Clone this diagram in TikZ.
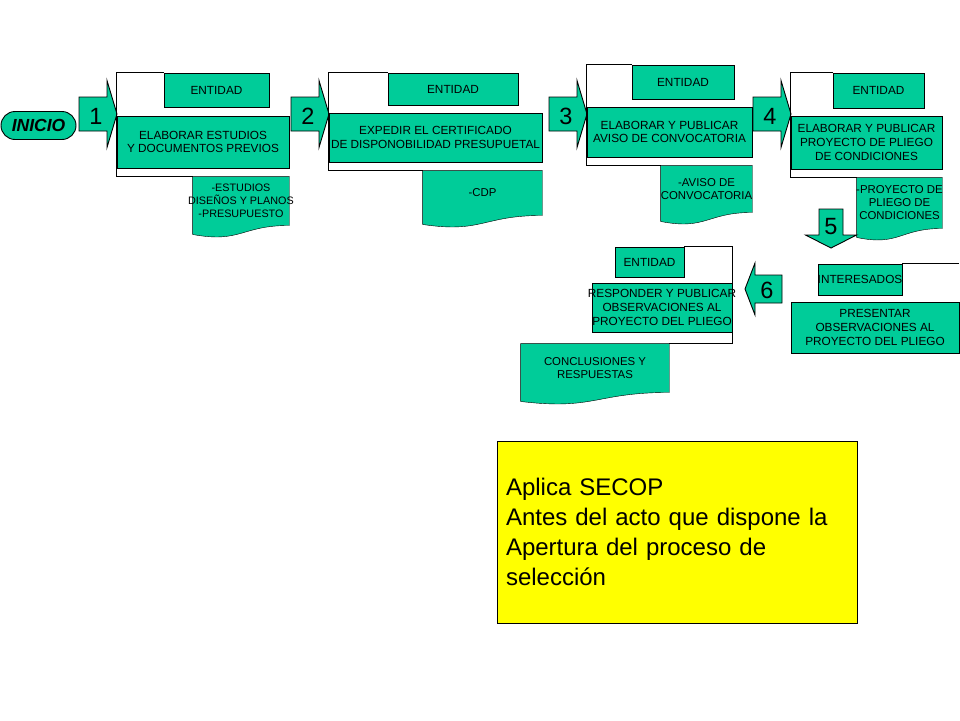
\documentclass[tikz,border=0pt]{standalone}
\usepackage{fontspec}
\setmainfont{Liberation Sans}
\usepackage{tikz}
\usetikzlibrary{calc,backgrounds}
\definecolor{verde}{RGB}{0,204,153}
\definecolor{amarillo}{RGB}{255,255,0}
\tikzset{
  caja/.style={draw, fill=verde, inner xsep=-15pt, inner ysep=0pt, align=center,
    font=\fontsize{11.8}{13.6}\selectfont},
  doc/.style={inner xsep=-15pt, inner ysep=0pt, align=center,
    font=\fontsize{11.4}{13}\selectfont},
  num/.style={font=\fontsize{23.5}{23.5}\selectfont},
  inicio/.style={draw, fill=verde, rounded corners=14pt, minimum width=75, minimum height=28,
    inner sep=0pt, font=\fontsize{17.5}{17.5}\selectfont\bfseries\itshape},
  pics/flecha/.style args={#1/#2/#3/#4}{code={
    \filldraw[fill=verde] (0,0) -- (-#3,-#4) -- (-#3,-#2) -- (-#1,-#2) -- (-#1,#2) -- (-#3,#2) -- (-#3,#4) -- cycle;
  }},
}
\begin{document}
\begin{tikzpicture}[x=1pt, y=-1pt, line width=0.9pt]
  \useasboundingbox (0,0) rectangle (960,720);

  \draw (38.5,125.5) node[inicio] (inicio) {INICIO};

  \pic at (117,114) {flecha=38/17/10/33.5};
  \pic at (329,114) {flecha=38/17/10/33.5};
  \pic at (587,114) {flecha=38/17/10/33.5};
  \pic at (791,114) {flecha=38/17/10/33.5};
  \pic[rotate=-90] at (831,248) {flecha=39/12/13/25.5};
  \pic[rotate=180] at (745,289) {flecha=37/14/10/26};
  \draw (96,116) node[num] (n1) {1};
  \draw (308,116) node[num] (n2) {2};
  \draw (566,116) node[num] (n3) {3};
  \draw (770,116) node[num] (n4) {4};
  \draw (831,227) node[num] (n5) {5};
  \draw (767,290) node[num] (n6) {6};

  \draw (216.5,90) node[caja, minimum width=105, minimum height=34] (ent1) {ENTIDAD};
  \draw (203,142) node[caja, minimum width=172, minimum height=52] (main1) {ELABORAR ESTUDIOS\\Y DOCUMENTOS PREVIOS};
  \draw (241,201) node[doc, minimum width=96, minimum height=48, font=\fontsize{10.8}{13}\selectfont] (doc1) {-ESTUDIOS\\DISEÑOS Y PLANOS\\-PRESUPUESTO};

  \draw (453,89) node[caja, minimum width=130, minimum height=32] (ent2) {ENTIDAD};
  \draw (435.5,137.5) node[caja, minimum width=213, minimum height=49] (main2) {EXPEDIR EL CERTIFICADO\\DE DISPONOBILIDAD PRESUPUETAL};
  \draw (482.5,193) node[doc, minimum width=119, minimum height=44] (doc2) {-CDP};

  \draw (683,82) node[caja, minimum width=102, minimum height=34] (ent3) {ENTIDAD};
  \draw (669.5,132) node[caja, minimum width=165, minimum height=50] (main3) {ELABORAR Y PUBLICAR\\AVISO DE CONVOCATORIA};
  \draw (706.5,189) node[doc, minimum width=91, minimum height=46] (doc3) {-AVISO DE\\CONVOCATORIA};

  \draw (878.5,90.5) node[caja, minimum width=91, minimum height=35] (ent4) {ENTIDAD};
  \draw (866.5,142.5) node[caja, minimum width=151, minimum height=53] (main4) {ELABORAR Y PUBLICAR\\PROYECTO DE PLIEGO\\DE CONDICIONES};
  \draw (899.5,203) node[doc, minimum width=85, minimum height=50] (doc4) {-PROYECTO DE\\PLIEGO DE\\CONDICIONES};

  \draw (860,279.5) node[caja, minimum width=84, minimum height=31] (int5) {INTERESADOS};
  \draw (875,327.5) node[caja, minimum width=168, minimum height=51] (main5) {PRESENTAR\\OBSERVACIONES AL\\PROYECTO DEL PLIEGO};

  \draw (649.5,262) node[caja, minimum width=69, minimum height=30] (ent6) {ENTIDAD};
  \draw (662,307.5) node[caja, minimum width=140, minimum height=49] (main6) {RESPONDER Y PUBLICAR\\OBSERVACIONES AL\\PROYECTO DEL PLIEGO};
  \draw (595,368) node[doc, minimum width=148, minimum height=48] (doc6) {CONCLUSIONES Y\\RESPUESTAS};

  \draw (ent1.north west) -| (main1.west |- doc1.north) -- (doc1.north west);
  \draw (ent2.north west) -| (main2.west |- doc2.north) -- (doc2.north west);
  \draw (ent3.north west) -| (main3.west |- doc3.north) -- (doc3.north west);
  \draw (ent4.north west) -| (main4.west |- doc4.north) -- (doc4.north west);
  \draw (int5.north east) -- (int5.north east -| main5.east);
  \draw (ent6.north east) -| (main6.east |- doc6.north) -- (doc6.north east);

  \draw (677,532) node[draw, fill=amarillo, minimum height=182, text width=342, inner xsep=9pt,
    align=left, font=\fontsize{24}{30}\selectfont] (secop) {Aplica SECOP\\Antes del acto que dispone la\\Apertura del proceso de\\selección};

  \begin{scope}[on background layer]
    \fill[white] (0,0) rectangle (960,720);
    \foreach \d in {doc1,doc2,doc3,doc4,doc6}
      \filldraw[fill=verde] (\d.north west) -- (\d.north east) -- (\d.south east)
        .. controls (\d.south) and ($(\d.south)+(0,18)$) .. ($(\d.south west)+(0,9)$) -- cycle;
  \end{scope}
\end{tikzpicture}
\end{document}
